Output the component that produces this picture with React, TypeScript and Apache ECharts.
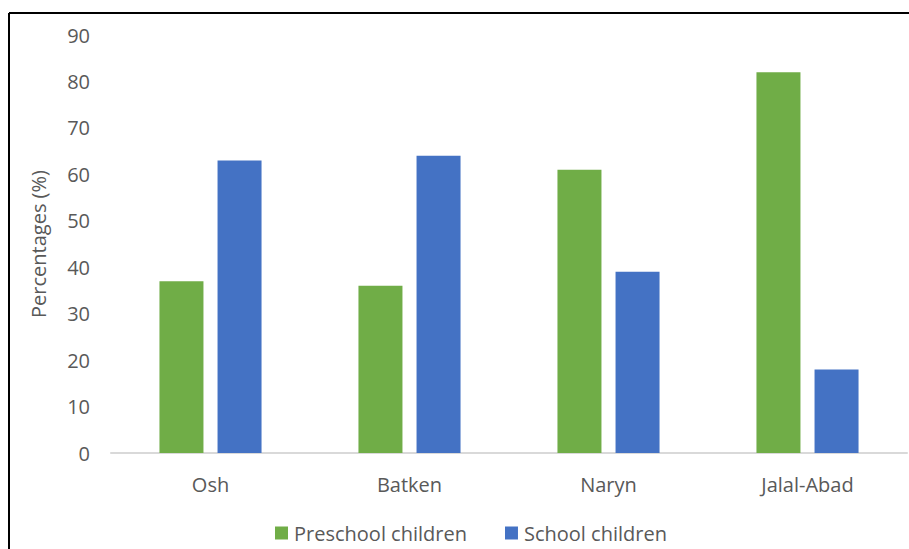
import React, { useEffect, useRef } from "react";
import * as echarts from "echarts";

const categories = ["Osh", "Batken", "Naryn", "Jalal-Abad"];
const preschool = [37, 36, 61, 82];
const school = [63, 64, 39, 18];
const seriesNames = ["Preschool children", "School children"];

const FONT = "'Open Sans', sans-serif";
const TEXT = "#595959";

export default function App() {
  const ref = useRef<HTMLDivElement>(null);
  useEffect(() => {
    document.body.style.margin = "0";
    const chart = echarts.init(ref.current!, null, { renderer: "svg" });
    chart.setOption({
      animation: false,
      backgroundColor: "#ffffff",
      textStyle: { fontFamily: FONT },
      grid: { left: 111, right: 2, top: 35, bottom: 96, containLabel: false },
      legend: {
        data: seriesNames,
        top: 521,
        left: 270,
        padding: [2, 5, 0, 5],
        icon: "rect",
        itemWidth: 13,
        itemHeight: 13,
        itemGap: 38,
        textStyle: { color: TEXT, fontSize: 20, fontFamily: FONT, padding: [0, 0, 0, 1] },
      },
      xAxis: {
        type: "category",
        data: categories,
        axisLine: { show: true, lineStyle: { color: "#D9D9D9", width: 2 } },
        axisTick: { show: false },
        axisLabel: { color: TEXT, fontSize: 20, fontFamily: FONT, margin: 21 },
      },
      yAxis: {
        type: "value",
        min: 0,
        max: 90,
        interval: 10,
        name: "Percentages (%)",
        nameLocation: "middle",
        nameGap: 63,
        nameTextStyle: { color: TEXT, fontSize: 20, fontFamily: FONT },
        axisLine: { show: false },
        axisTick: { show: false },
        splitLine: { show: false },
        axisLabel: { color: TEXT, fontSize: 20, fontFamily: FONT, margin: 21 },
      },
      series: [
        {
          name: seriesNames[0],
          type: "bar",
          data: preschool,
          barWidth: 44,
          barGap: "32%",
          itemStyle: { color: "#70AD47" },
        },
        {
          name: seriesNames[1],
          type: "bar",
          data: school,
          barWidth: 44,
          itemStyle: { color: "#4472C4" },
        },
      ],
      graphic: [
        {
          type: "line",
          shape: { x1: 9, y1: 13, x2: 909, y2: 13 },
          style: { stroke: "#000", lineWidth: 2 },
        },
        {
          type: "line",
          shape: { x1: 9, y1: 13, x2: 9, y2: 549 },
          style: { stroke: "#000", lineWidth: 2 },
        },
      ],
    });
    return () => chart.dispose();
  }, []);
  return <div ref={ref} style={{ width: 909, height: 549 }} />;
}
